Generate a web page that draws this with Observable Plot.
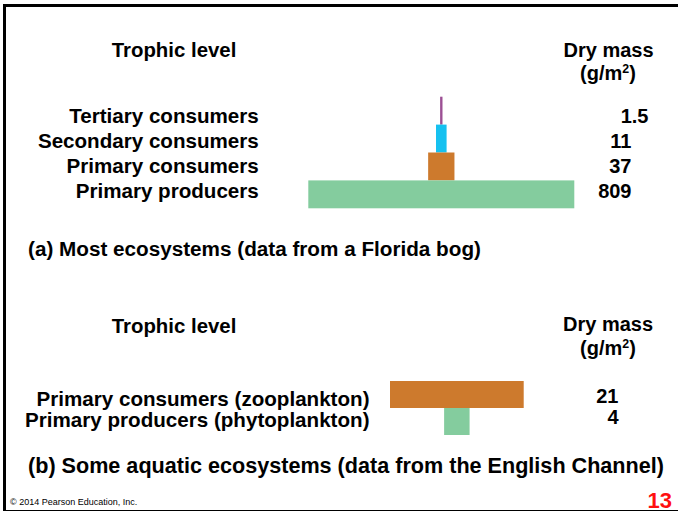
<!DOCTYPE html>
<html>
<head>
<meta charset="utf-8">
<script src="https://cdn.jsdelivr.net/npm/d3@7"></script>
<script src="https://cdn.jsdelivr.net/npm/@observablehq/plot@0.6"></script>
<style>
html, body { margin: 0; padding: 0; background: #fff; overflow: hidden; }
#slide { position: relative; width: 678px; height: 512px; overflow: hidden; font-family: "Liberation Sans", Arial, sans-serif; color: #000; background: #fff; }
#slide svg { position: absolute; left: 0; top: 0; }
.frame { position: absolute; left: 3px; top: 4px; width: 720px; height: 507px; border-left: 3px solid #000; border-top: 3px solid #000; border-bottom: 1.5px solid #000; box-sizing: border-box; }
.t { position: absolute; font-weight: bold; font-size: 20px; line-height: 20px; white-space: nowrap; }
.c { transform: translateX(-50%); }
sup { font-size: 0.62em; line-height: 0; vertical-align: 0.55em; }
.foot { position: absolute; left: 10px; top: 498.4px; font-size: 9px; line-height: 9px; white-space: nowrap; }
.page { position: absolute; right: 6px; top: 490.4px; font-size: 22px; line-height: 22px; font-weight: bold; color: #ff1010; }
</style>
</head>
<body>
<div id="slide">
  <div class="frame"></div>
  <div class="t c" style="left:174px; top:40.1px; font-size:20.4px;">Trophic level</div>
  <div class="t c" style="left:608.5px; top:40.1px;">Dry mass</div>
  <div class="t c" style="left:608px; top:63.1px;">(g/m<sup>2</sup>)</div>
  <div class="t" style="left:28px; top:239.3px; font-size:20.7px;">(a) Most ecosystems (data from a Florida bog)</div>
  <div class="t c" style="left:174px; top:316.4px; font-size:20.4px;">Trophic level</div>
  <div class="t c" style="left:608px; top:314.1px;">Dry mass</div>
  <div class="t c" style="left:608px; top:338.1px;">(g/m<sup>2</sup>)</div>
  <div class="t" style="left:28px; top:455.8px; font-size:21.6px;">(b) Some aquatic ecosystems (data from the English Channel)</div>
  <div class="foot">© 2014 Pearson Education, Inc.</div>
  <div class="page">13</div>
</div>
<script>
// (a) Florida bog
const levelsA = ["Tertiary consumers", "Secondary consumers", "Primary consumers", "Primary producers"];
const massA = [1.5, 11, 37, 809];
const massLabelsA = ["1.5", "11", "37", "809"];

// (b) English Channel
const levelsB = ["Primary consumers (zooplankton)", "Primary producers (phytoplankton)"];
const massB = [21, 4];
const massLabelsB = ["21", "4"];

const dataA = levelsA.map((level, i) => ({level, mass: massA[i], label: massLabelsA[i]}));
const dataB = levelsB.map((level, i) => ({level, mass: massB[i], label: massLabelsB[i]}));

const font = "'Liberation Sans', Arial, sans-serif";
const slide = document.getElementById("slide");

const maxA = d3.max(massA);
const barsA = Plot.plot({
  width: 678, height: 512, margin: 0,
  style: {background: "none", overflow: "visible"},
  x: {type: "pow", exponent: 0.75, domain: [-maxA, maxA], range: [308.3, 574.3], axis: null},
  y: {type: "band", domain: levelsA, range: [96.7, 208.3], padding: 0, round: false, axis: null},
  color: {domain: levelsA, range: ["#9c4f94", "#16c1f0", "#cd7a2d", "#84cc9e"]},
  marks: [
    Plot.barX(dataA, {x1: d => -d.mass, x2: d => d.mass, y: "level", fill: "level"})
  ]
});

const textA = Plot.plot({
  width: 678, height: 512, marginLeft: 258.3, marginRight: 47, marginTop: 0, marginBottom: 0,
  style: {background: "none", fontFamily: font, fontSize: "20px", fontWeight: "bold", color: "#000", overflow: "visible"},
  y: {type: "point", domain: levelsA, range: [115.5, 191.5], padding: 0},
  marks: [
    Plot.axisY({tickSize: 0, tickPadding: 0, label: null, fontSize: 20.6, fontWeight: "bold"}),
    Plot.text(dataA, {filter: (d, i) => i > 0, y: "level", text: "label", frameAnchor: "right", textAnchor: "end", fontSize: 20, fontWeight: "bold"}),
    Plot.text(dataA, {filter: (d, i) => i === 0, y: "level", text: "label", frameAnchor: "right", textAnchor: "end", dx: 17, fontSize: 20, fontWeight: "bold"})
  ]
});

const maxB = d3.max(massB);
const barsB = Plot.plot({
  width: 678, height: 512, margin: 0,
  style: {background: "none", overflow: "visible"},
  x: {type: "linear", domain: [-maxB, maxB], range: [390, 523.7], axis: null},
  y: {type: "band", domain: levelsB, range: [381, 435], padding: 0, round: false, axis: null},
  color: {domain: levelsB, range: ["#cd7a2d", "#84cc9e"]},
  marks: [
    Plot.barX(dataB, {x1: d => -d.mass, x2: d => d.mass, y: "level", fill: "level"})
  ]
});

const textB = Plot.plot({
  width: 678, height: 512, marginLeft: 369, marginRight: 60, marginTop: 0, marginBottom: 0,
  style: {background: "none", fontFamily: font, fontSize: "20px", fontWeight: "bold", color: "#000", overflow: "visible"},
  y: {type: "point", domain: levelsB, range: [398.6, 420.3], padding: 0},
  marks: [
    Plot.axisY({tickSize: 0, tickPadding: 0, label: null, fontSize: 20.6, fontWeight: "bold"}),
    Plot.text(dataB, {y: "level", text: "label", frameAnchor: "right", textAnchor: "end", dy: -3.4, fontSize: 20, fontWeight: "bold"})
  ]
});

slide.append(barsA, textA, barsB, textB);
</script>
</body>
</html>
